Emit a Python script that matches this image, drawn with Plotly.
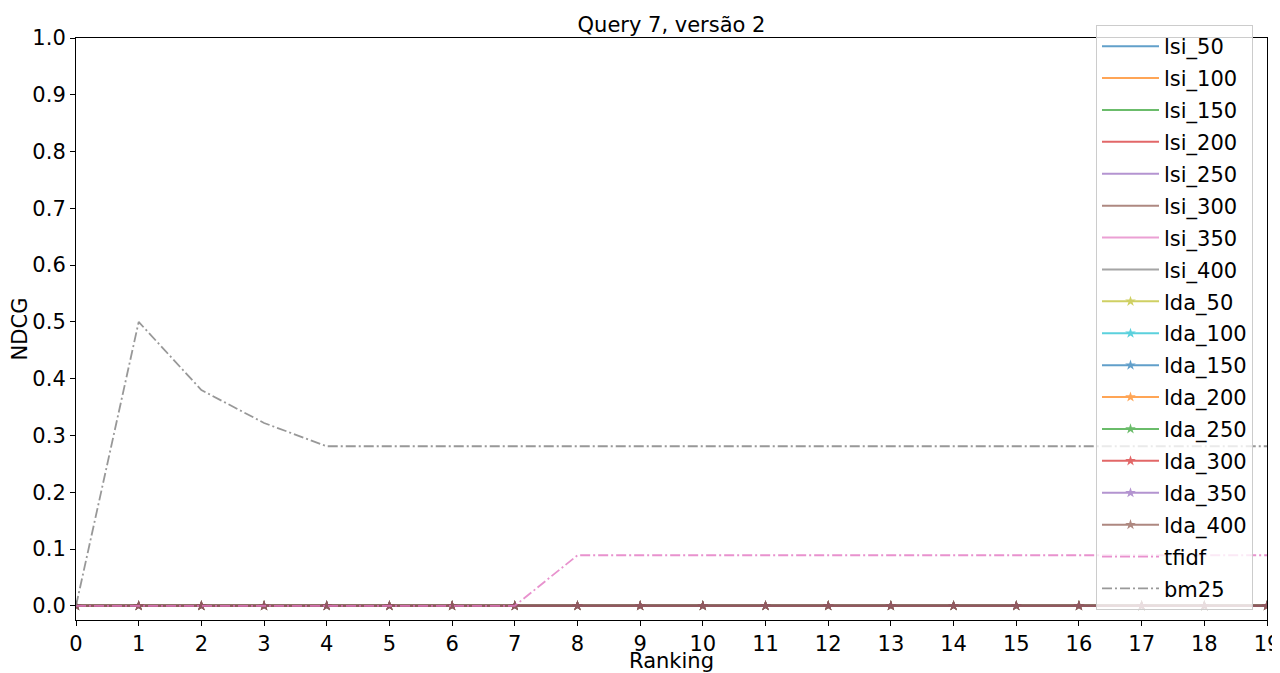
import plotly.graph_objects as go

ranking = list(range(20))
lsi_names = ["lsi_50", "lsi_100", "lsi_150", "lsi_200", "lsi_250", "lsi_300", "lsi_350", "lsi_400"]
lda_names = ["lda_50", "lda_100", "lda_150", "lda_200", "lda_250", "lda_300", "lda_350", "lda_400"]
lsi_values = [[0.0] * 20 for _ in lsi_names]
lda_values = [[0.0] * 20 for _ in lda_names]
tfidf = [0.0, 0.0, 0.0, 0.0, 0.0, 0.0, 0.0, 0.0, 0.089, 0.089, 0.089, 0.089, 0.089, 0.089,
         0.089, 0.089, 0.089, 0.089, 0.089, 0.089]
bm25 = [0.0, 0.5, 0.38, 0.322, 0.281, 0.281, 0.281, 0.281, 0.281, 0.281, 0.281, 0.281, 0.281,
        0.281, 0.281, 0.281, 0.281, 0.281, 0.281, 0.281]
y_ticks = [0.0, 0.1, 0.2, 0.3, 0.4, 0.5, 0.6, 0.7, 0.8, 0.9, 1.0]

tab10 = ["#1f77b4", "#ff7f0e", "#2ca02c", "#d62728", "#9467bd", "#8c564b",
         "#e377c2", "#7f7f7f", "#bcbd22", "#17becf"]

fig = go.Figure()
ci = 0
for name, vals in zip(lsi_names, lsi_values):
    fig.add_trace(go.Scatter(x=ranking, y=vals, name=name, mode="lines", legendgroup=name,
                             line=dict(color=tab10[ci % 10], width=2), opacity=0.7))
    ci += 1
for name, vals in zip(lda_names, lda_values):
    fig.add_trace(go.Scatter(x=ranking, y=vals, name=name, mode="lines+markers", legendgroup=name,
                             line=dict(color=tab10[ci % 10], width=2),
                             marker=dict(symbol="star", size=8, color=tab10[ci % 10]),
                             opacity=0.7))
    ci += 1
fig.add_trace(go.Scatter(x=ranking, y=tfidf, name="tfidf", mode="lines", legendgroup="tfidf",
                         line=dict(color=tab10[6], width=1.8, dash="10px,3px,2px,3px"), opacity=0.8))
fig.add_trace(go.Scatter(x=ranking, y=bm25, name="bm25", mode="lines", legendgroup="bm25",
                         line=dict(color=tab10[7], width=1.8, dash="10px,3px,2px,3px"), opacity=0.8))

# page body has an 8px margin: figure is 1272x665, offset by 8px
W, H = 1272, 665
L, R, T, B = 68, 13, 30, 53
pw, ph = W - L - R, H - T - B
font = "DejaVu Sans"
fig.update_layout(
    width=W, height=H,
    margin=dict(l=L, r=R, t=T, b=B, autoexpand=False),
    plot_bgcolor="white", paper_bgcolor="white",
    font=dict(family=font, size=21, color="black"),
    title=dict(text="Query 7, versão 2", x=0.5, xref="paper", y=1 - 17 / H, yref="container",
               xanchor="center", yanchor="middle", font=dict(size=21, family=font, color="black")),
    legend=dict(x=(1096 - 76) / pw, y=(620 - 25) / ph, xanchor="left", yanchor="top",
                bgcolor="rgba(255,255,255,0.8)", bordercolor="#cccccc", borderwidth=1,
                font=dict(size=21, family=font, color="black"),
                traceorder="grouped", tracegroupgap=1.6, maxheight=660,
                itemwidth=57, entrywidth=140),
    showlegend=True,
)
fig.update_xaxes(range=[0, 19], tickmode="array", tickvals=ranking, ticktext=[str(v) for v in ranking],
                 showgrid=False, zeroline=False, showline=True, linecolor="black", linewidth=1.1,
                 mirror=True, ticks="outside", ticklen=5, tickwidth=1.1, tickcolor="black",
                 automargin=False, ticklabeloverflow="allow",
                 title=dict(text="Ranking", font=dict(size=21, family=font), standoff=12))
fig.update_yaxes(range=[-0.025, 1.0], tickmode="array", tickvals=y_ticks,
                 ticktext=[f"{v:.1f}" for v in y_ticks],
                 showgrid=False, zeroline=False, showline=True, linecolor="black", linewidth=1.1,
                 mirror=True, ticks="outside", ticklen=5, tickwidth=1.1, tickcolor="black",
                 automargin=False,
                 title=dict(text="NDCG", font=dict(size=21, family=font), standoff=0))

fig.write_html("out.html")
